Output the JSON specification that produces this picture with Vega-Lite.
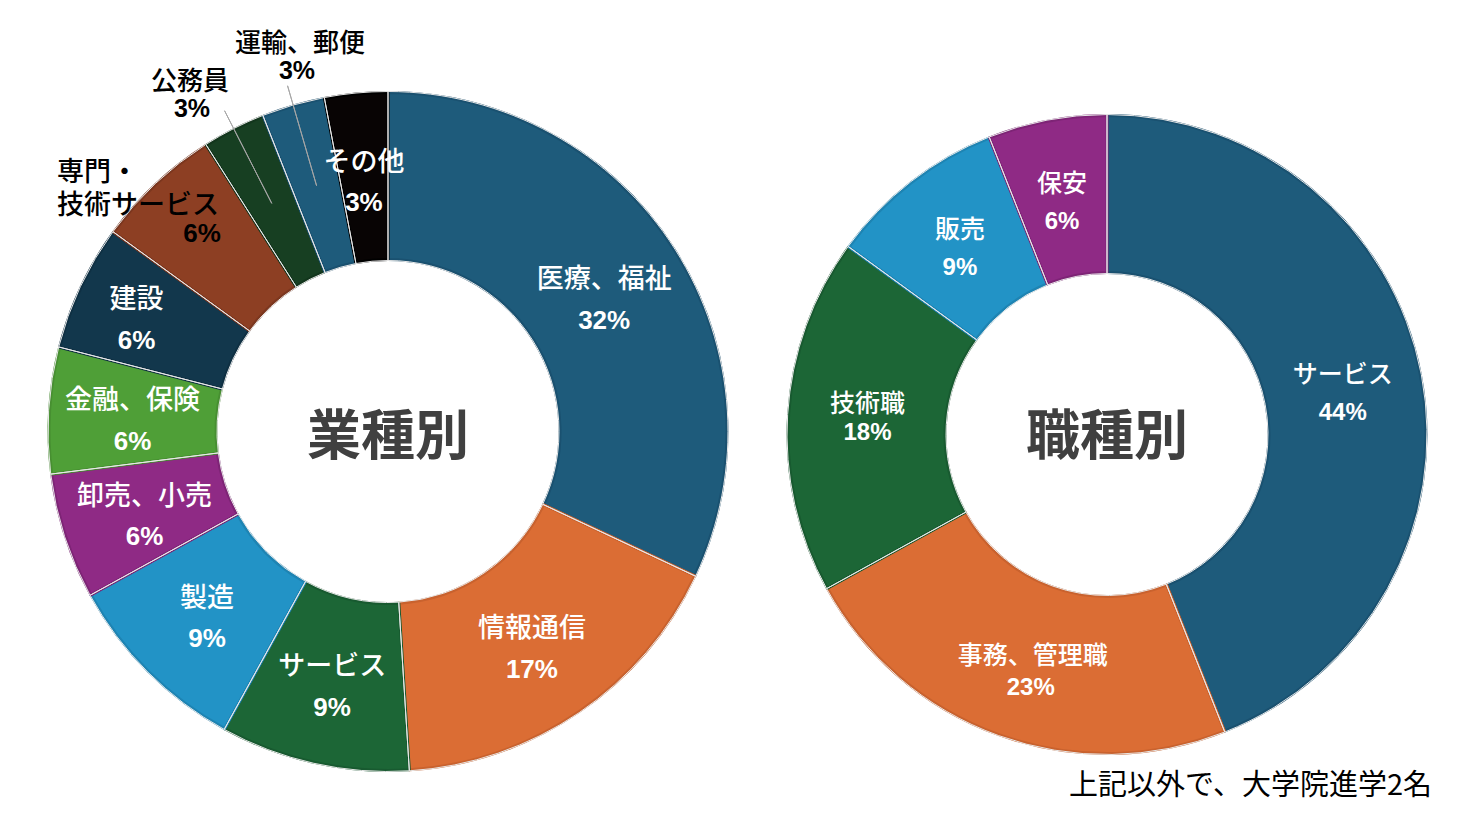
{
  "$schema": "https://vega.github.io/schema/vega-lite/v6.json",
  "background": "white",
  "padding": 0,
  "spacing": 0,
  "config": {"view": {"stroke": null}},
  "resolve": {"scale": {"fill": "independent", "stroke": "independent", "theta": "independent"}},
  "hconcat": [
    {
      "width": 776,
      "height": 813,
      "layer": [
        {
          "data": {
            "values": [
              {"name": "医療、福祉", "share": 0.32},
              {"name": "情報通信", "share": 0.17},
              {"name": "サービス", "share": 0.09},
              {"name": "製造", "share": 0.09},
              {"name": "卸売、小売", "share": 0.06},
              {"name": "金融、保険", "share": 0.06},
              {"name": "建設", "share": 0.06},
              {"name": "専門・\n技術サービス", "share": 0.06},
              {"name": "公務員", "share": 0.03},
              {"name": "運輸、郵便", "share": 0.03},
              {"name": "その他", "share": 0.03}
            ]
          },
          "encoding": {
            "theta": {"field": "share", "type": "quantitative", "stack": true},
            "order": {"field": "share", "type": "quantitative", "sort": "descending"},
            "detail": {"field": "name", "type": "nominal"}
          },
          "layer": [
            {
              "mark": {"type": "arc", "radius": 339, "radius2": 172, "strokeWidth": 3, "strokeJoin": "round", "yOffset": 25},
              "encoding": {
                "fill": {
                  "field": "name", "type": "nominal", "legend": null,
                  "scale": {
                    "domain": ["医療、福祉", "情報通信", "サービス", "製造", "卸売、小売", "金融、保険", "建設", "専門・\n技術サービス", "公務員", "運輸、郵便", "その他"],
                    "range": ["#1E5B7B", "#DB6D34", "#1C6636", "#2293C6", "#8F2A85", "#4F9F37", "#12374C", "#8D3F23", "#173F22", "#1E5B7B", "#080404"]
                  }
                },
                "stroke": {
                  "field": "name", "type": "nominal", "legend": null,
                  "scale": {
                    "domain": ["医療、福祉", "情報通信", "サービス", "製造", "卸売、小売", "金融、保険", "建設", "専門・\n技術サービス", "公務員", "運輸、郵便", "その他"],
                    "range": ["#1A5170", "#C9622E", "#185A30", "#1E84B3", "#7E2476", "#478F31", "#0F3043", "#7C371F", "#13361D", "#1A5170", "#000000"]
                  }
                }
              }
            },
            {
              "mark": {"type": "arc", "radius": 340, "radius2": 171, "filled": false, "stroke": "#e8e8e8", "strokeWidth": 1, "yOffset": 25}
            },
            {
              "mark": {"type": "arc", "radius": 360, "radius2": 256, "padAngle": 0.5, "filled": false, "stroke": "#a6a6a6", "strokeWidth": 1, "yOffset": 25},
              "encoding": {
                "strokeOpacity": {"condition": {"test": "datum.name === '公務員' || datum.name === '運輸、郵便'", "value": 1}, "value": 0}
              }
            },
            {
              "mark": {"type": "text", "radius": 256, "dy": -17, "yOffset": 28, "font": "Noto Sans CJK JP", "fontSize": 27, "fontWeight": 500, "fill": "white"},
              "encoding": {
                "text": {"field": "name", "type": "nominal", "condition": {"test": "indexof(['建設','公務員','運輸、郵便'], datum.name) >= 0 || indexof(datum.name, '専門') === 0", "value": ""}}
              }
            },
            {
              "mark": {"type": "text", "radius": 256, "dy": 24, "yOffset": 27.5, "font": "Liberation Sans", "fontSize": 26, "fontWeight": "bold", "fill": "white"},
              "encoding": {
                "text": {"field": "share", "type": "quantitative", "format": ".0%", "condition": {"test": "indexof(['建設','公務員','運輸、郵便'], datum.name) >= 0 || indexof(datum.name, '専門') === 0", "value": ""}}
              }
            },
            {
              "mark": {"type": "text", "radius": 278, "dy": -15, "yOffset": 27, "font": "Noto Sans CJK JP", "fontSize": 27, "fontWeight": 500, "fill": "white"},
              "encoding": {
                "text": {"condition": {"test": "datum.name === '建設'", "field": "name", "type": "nominal"}, "value": ""}
              }
            },
            {
              "mark": {"type": "text", "radius": 278, "dy": 27, "yOffset": 26, "font": "Liberation Sans", "fontSize": 26, "fontWeight": "bold", "fill": "white"},
              "encoding": {
                "text": {"condition": {"test": "datum.name === '建設'", "field": "share", "type": "quantitative", "format": ".0%"}, "value": ""}
              }
            },
            {
              "mark": {"type": "text", "radius": 0, "dx": -198, "dy": -350, "yOffset": 25, "font": "Noto Sans CJK JP", "fontSize": 26, "fontWeight": 500, "fill": "black"},
              "encoding": {
                "text": {"condition": {"test": "datum.name === '公務員'", "field": "name", "type": "nominal"}, "value": ""}
              }
            },
            {
              "mark": {"type": "text", "radius": 0, "dx": -196, "dy": -323, "yOffset": 25, "font": "Liberation Sans", "fontSize": 25, "fontWeight": "bold", "fill": "black"},
              "encoding": {
                "text": {"condition": {"test": "datum.name === '公務員'", "field": "share", "type": "quantitative", "format": ".0%"}, "value": ""}
              }
            },
            {
              "mark": {"type": "text", "radius": 0, "dx": -88, "dy": -388, "yOffset": 25, "font": "Noto Sans CJK JP", "fontSize": 26, "fontWeight": 500, "fill": "black"},
              "encoding": {
                "text": {"condition": {"test": "datum.name === '運輸、郵便'", "field": "name", "type": "nominal"}, "value": ""}
              }
            },
            {
              "mark": {"type": "text", "radius": 0, "dx": -91, "dy": -361, "yOffset": 25, "font": "Liberation Sans", "fontSize": 25, "fontWeight": "bold", "fill": "black"},
              "encoding": {
                "text": {"condition": {"test": "datum.name === '運輸、郵便'", "field": "share", "type": "quantitative", "format": ".0%"}, "value": ""}
              }
            },
            {
              "mark": {"type": "text", "radius": 0, "dx": -331, "dy": -259, "align": "left", "lineBreak": "\n", "lineHeight": 33, "yOffset": 25, "font": "Noto Sans CJK JP", "fontSize": 27, "fontWeight": 500, "fill": "black"},
              "encoding": {
                "text": {"condition": {"test": "indexof(datum.name, '専門') === 0", "field": "name", "type": "nominal"}, "value": ""}
              }
            },
            {
              "mark": {"type": "text", "radius": 260, "dx": -8, "dy": -8, "yOffset": 25, "font": "Liberation Sans", "fontSize": 26, "fontWeight": "bold", "fill": "black"},
              "encoding": {
                "text": {"condition": {"test": "indexof(datum.name, '専門') === 0", "field": "share", "type": "quantitative", "format": ".0%"}, "value": ""}
              }
            }
          ]
        },
        {
          "data": {"values": [{"label": "業種別"}]},
          "mark": {"type": "text", "yOffset": 32, "font": "Noto Sans CJK JP", "fontSize": 54, "fontWeight": "bold", "fill": "#404040"},
          "encoding": {"text": {"field": "label", "type": "nominal"}}
        }
      ]
    },
    {
      "width": 662,
      "height": 813,
      "layer": [
        {
          "data": {
            "values": [
              {"name": "サービス", "share": 0.44},
              {"name": "事務、管理職", "share": 0.23},
              {"name": "技術職", "share": 0.18},
              {"name": "販売", "share": 0.09},
              {"name": "保安", "share": 0.06}
            ]
          },
          "encoding": {
            "theta": {"field": "share", "type": "quantitative", "stack": true},
            "order": {"field": "share", "type": "quantitative", "sort": "descending"},
            "detail": {"field": "name", "type": "nominal"}
          },
          "layer": [
            {
              "mark": {"type": "arc", "radius": 319, "radius2": 162, "strokeWidth": 3, "strokeJoin": "round", "yOffset": 28},
              "encoding": {
                "fill": {
                  "field": "name", "type": "nominal", "legend": null,
                  "scale": {
                    "domain": ["サービス", "事務、管理職", "技術職", "販売", "保安"],
                    "range": ["#1E5B7B", "#DB6D34", "#1C6636", "#2293C6", "#8F2A85"]
                  }
                },
                "stroke": {
                  "field": "name", "type": "nominal", "legend": null,
                  "scale": {
                    "domain": ["サービス", "事務、管理職", "技術職", "販売", "保安"],
                    "range": ["#1A5170", "#C9622E", "#185A30", "#1E84B3", "#7E2476"]
                  }
                }
              }
            },
            {
              "mark": {"type": "arc", "radius": 320, "radius2": 161, "filled": false, "stroke": "#e8e8e8", "strokeWidth": 1, "yOffset": 28}
            },
            {
              "mark": {"type": "text", "radius": 240, "dy": -16, "yOffset": 29, "font": "Noto Sans CJK JP", "fontSize": 25, "fontWeight": 500, "fill": "white"},
              "encoding": {
                "text": {"field": "name", "type": "nominal", "condition": {"test": "datum.name === '事務、管理職'", "value": ""}}
              }
            },
            {
              "mark": {"type": "text", "radius": 240, "dy": 21, "yOffset": 30, "font": "Liberation Sans", "fontSize": 24, "fontWeight": "bold", "fill": "white"},
              "encoding": {
                "text": {"field": "share", "type": "quantitative", "format": ".0%", "condition": {"test": "datum.name === '事務、管理職' || datum.name === '技術職'", "value": ""}}
              }
            },
            {
              "mark": {"type": "text", "radius": 240, "dy": 13, "yOffset": 29, "font": "Liberation Sans", "fontSize": 24, "fontWeight": "bold", "fill": "white"},
              "encoding": {
                "text": {"condition": {"test": "datum.name === '技術職'", "field": "share", "type": "quantitative", "format": ".0%"}, "value": ""}
              }
            },
            {
              "mark": {"type": "text", "radius": 240, "dx": 7, "dy": -5, "yOffset": 29, "font": "Noto Sans CJK JP", "fontSize": 25, "fontWeight": 500, "fill": "white"},
              "encoding": {
                "text": {"condition": {"test": "datum.name === '事務、管理職'", "field": "name", "type": "nominal"}, "value": ""}
              }
            },
            {
              "mark": {"type": "text", "radius": 240, "dx": 5, "dy": 27, "yOffset": 29, "font": "Liberation Sans", "fontSize": 24, "fontWeight": "bold", "fill": "white"},
              "encoding": {
                "text": {"condition": {"test": "datum.name === '事務、管理職'", "field": "share", "type": "quantitative", "format": ".0%"}, "value": ""}
              }
            }
          ]
        },
        {
          "data": {"values": [{"label": "職種別"}]},
          "mark": {"type": "text", "yOffset": 32, "font": "Noto Sans CJK JP", "fontSize": 54, "fontWeight": "bold", "fill": "#404040"},
          "encoding": {"text": {"field": "label", "type": "nominal"}}
        },
        {
          "data": {"values": [{"note": "上記以外で、大学院進学2名"}]},
          "mark": {"type": "text", "x": 656, "y": 786, "align": "right", "baseline": "middle", "font": "Noto Sans CJK JP", "fontSize": 29, "fill": "black"},
          "encoding": {"text": {"field": "note", "type": "nominal"}}
        }
      ]
    }
  ]
}
